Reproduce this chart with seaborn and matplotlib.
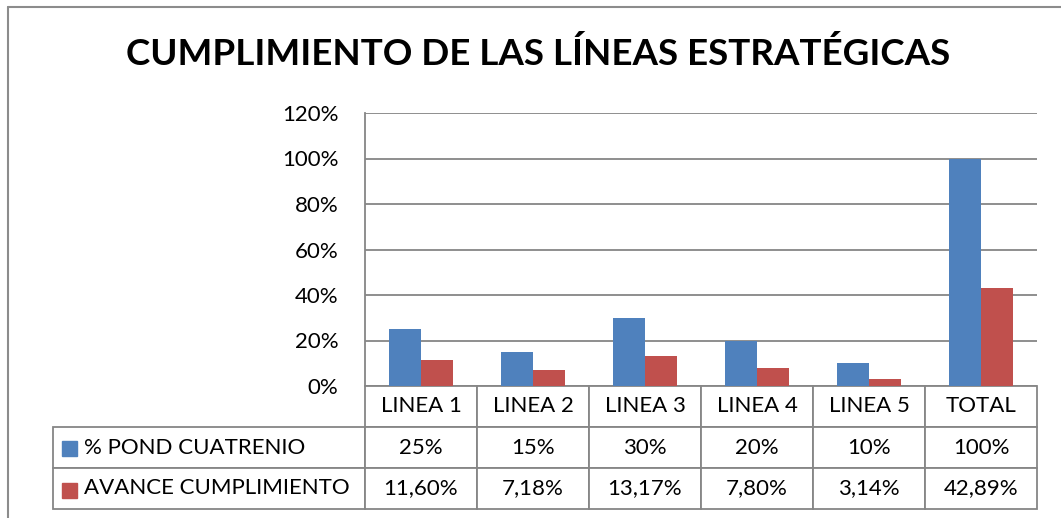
import numpy as np
import pandas as pd
import matplotlib.pyplot as plt
import seaborn as sns
from matplotlib.patches import Rectangle
from matplotlib.lines import Line2D

# Datos del grafico
categorias = ["LINEA 1", "LINEA 2", "LINEA 3", "LINEA 4", "LINEA 5", "TOTAL"]
series = ["% POND CUATRENIO", "AVANCE CUMPLIMIENTO"]
pond = [25, 15, 30, 20, 10, 100]
avance = [11.60, 7.18, 13.17, 7.80, 3.14, 42.89]
pond_txt = ["25%", "15%", "30%", "20%", "10%", "100%"]
avance_txt = ["11,60%", "7,18%", "13,17%", "7,80%", "3,14%", "42,89%"]
y_ticks = [0, 20, 40, 60, 80, 100, 120]
y_labels = ["0%", "20%", "40%", "60%", "80%", "100%", "120%"]
colores = ["#4F81BD", "#C0504D"]

df = pd.DataFrame({
    "linea": categorias * 2,
    "serie": [series[0]] * len(categorias) + [series[1]] * len(categorias),
    "valor": pond + avance,
})

sns.set_style("white")
plt.rcParams["font.family"] = ["Lato", "DejaVu Sans"]
plt.rcParams["text.color"] = "black"
plt.rcParams["ytick.color"] = "black"

W, H = 1061, 518
fig = plt.figure(figsize=(W / 100, H / 100), dpi=100)
ax = fig.add_axes([365 / W, 1 - 386 / H, 672 / W, (386 - 113) / H])

sns.barplot(data=df, x="linea", y="valor", hue="serie", palette=colores,
            width=0.57, saturation=1, ax=ax, legend=False, errorbar=None,
            linewidth=0)

gris = "#868686"
ax.set_ylim(0, 120)
ax.set_yticks(y_ticks, y_labels)
ax.yaxis.grid(True, color=gris, linewidth=1.3)
ax.set_axisbelow(True)
ax.tick_params(axis="y", length=0, pad=19, labelsize=16, labelcolor="black")
ax.set_xticks([])
ax.set_xlabel("")
ax.set_ylabel("")
for s in ["top", "right", "bottom"]:
    ax.spines[s].set_visible(False)
ax.spines["left"].set_color(gris)
ax.spines["left"].set_linewidth(1.3)

# Tabla de datos
filas = [[series[0]] + pond_txt, [series[1]] + avance_txt]
x0 = (53 - 365) / 672
y0 = -(509 - 386) / 273
tabla = ax.table(cellText=filas, colLabels=[""] + categorias, cellLoc="center",
                 colWidths=[312] + [112] * len(categorias),
                 bbox=[x0, y0, (1037 - 53) / 672, -y0])
tabla.auto_set_font_size(False)
for (r, c), cell in tabla.get_celld().items():
    cell.set_edgecolor(gris)
    cell.set_linewidth(1.3)
    cell.get_text().set_fontsize(16)
    cell.get_text().set_color("black")
    if r == 0 and c == 0:
        cell.visible_edges = ""
    if r > 0 and c == 0:
        cell._loc = "left"
        cell.get_text().set_ha("left")

# Marcadores de leyenda en la tabla
for i, col in enumerate(colores):
    yc = (386 - (448 + 42 * i)) / 273
    ax.add_patch(Rectangle(((62 - 365) / 672, yc - 7.5 / 273), 15 / 672, 15 / 273,
                           transform=ax.transAxes, color=col, clip_on=False))

# Titulo y marco
fig.text(538 / W, 1 - 65 / H, "CUMPLIMIENTO DE LAS LÍNEAS ESTRATÉGICAS",
         ha="center", va="baseline", fontsize=26.5, fontweight="bold", color="black")
fig.add_artist(Line2D([8 / W, 8 / W], [0, 1 - 7 / H], color="#8c8c8c", linewidth=1.5))
fig.add_artist(Line2D([8 / W, 1], [1 - 7 / H, 1 - 7 / H], color="#8c8c8c", linewidth=1.5))

fig.savefig("out.png", dpi=100)
